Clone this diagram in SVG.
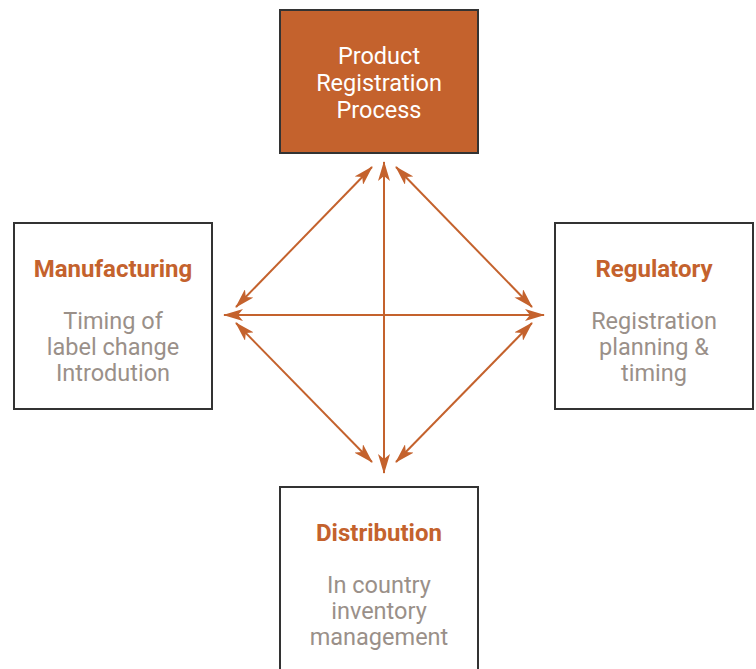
<svg xmlns="http://www.w3.org/2000/svg" width="756" height="669" viewBox="0 0 756 669">
<style>
.box{fill:#fff;stroke:#333;stroke-width:2}
.main{fill:#C4622D;stroke:#333;stroke-width:2}
.t{font-family:Roboto,"Liberation Sans",sans-serif;text-anchor:middle}
.w{fill:#fff;font-size:23.5px}
.h{fill:#C4622D;font-size:24px;font-weight:bold}
.b{fill:#9A9089;font-size:23.5px}
.c{stroke:#C4622D;stroke-width:2;fill:none;marker-start:url(#ah);marker-end:url(#ah)}
</style>
<defs>
<marker id="ah" viewBox="0 0 20 12" refX="19" refY="6" markerWidth="20" markerHeight="12" markerUnits="userSpaceOnUse" orient="auto-start-reverse">
<path d="M0,0 L20,6 L0,12 L5,6 Z" fill="#C4622D"/>
</marker>
</defs>
<g id="connectors">
<line class="c" x1="224" y1="315" x2="544" y2="315"/>
<line class="c" x1="384" y1="162" x2="384" y2="473"/>
<line class="c" x1="236" y1="307" x2="372" y2="167"/>
<line class="c" x1="396" y1="167" x2="532" y2="307"/>
<line class="c" x1="236" y1="323" x2="372" y2="462"/>
<line class="c" x1="532" y1="323" x2="396" y2="462"/>
</g>
<g id="product">
<rect class="main" x="280" y="10" width="198" height="143"/>
<text class="t w" x="379" y="64">Product</text>
<text class="t w" x="379" y="91">Registration</text>
<text class="t w" x="379" y="118">Process</text>
</g>
<g id="manufacturing">
<rect class="box" x="14" y="223" width="198" height="186"/>
<text class="t h" x="113" y="277">Manufacturing</text>
<text class="t b" x="113" y="329">Timing of</text>
<text class="t b" x="113" y="355">label change</text>
<text class="t b" x="113" y="381">Introdution</text>
</g>
<g id="regulatory">
<rect class="box" x="555" y="223" width="198" height="186"/>
<text class="t h" x="654" y="277">Regulatory</text>
<text class="t b" x="654" y="329">Registration</text>
<text class="t b" x="654" y="355">planning &amp;</text>
<text class="t b" x="654" y="381">timing</text>
</g>
<g id="distribution">
<rect class="box" x="280" y="487" width="198" height="186"/>
<text class="t h" x="379" y="541">Distribution</text>
<text class="t b" x="379" y="593">In country</text>
<text class="t b" x="379" y="619">inventory</text>
<text class="t b" x="379" y="645">management</text>
</g>
</svg>
